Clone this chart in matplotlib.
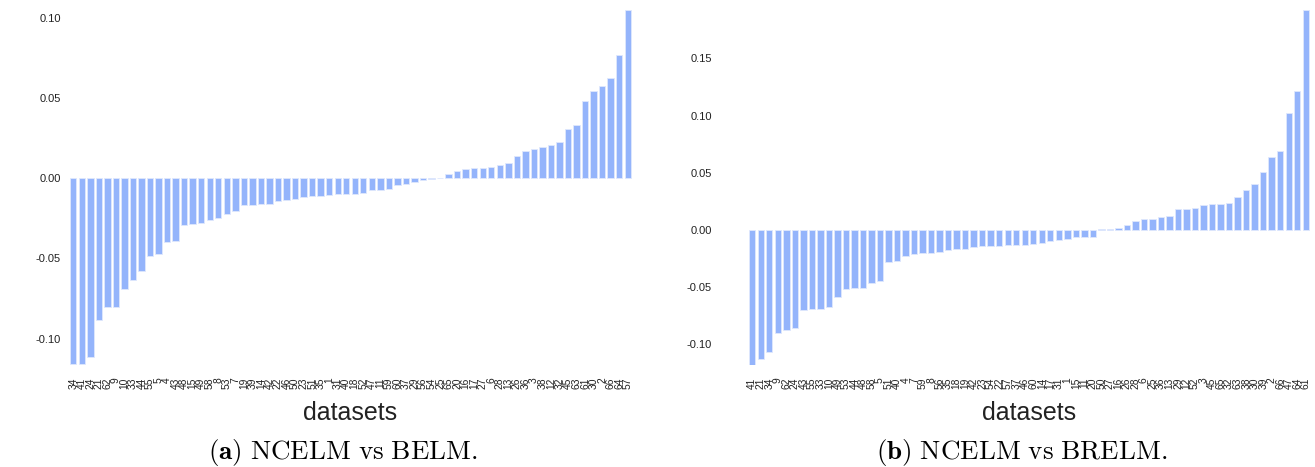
import numpy as np
import matplotlib
matplotlib.use('Agg')
import matplotlib.pyplot as plt

# Panel (a): NCELM vs BELM, sorted differences per dataset
labels_a = [34, 41, 24, 21, 62, 9, 10, 33, 44, 55, 5, 4, 43, 48, 15, 49, 58, 8, 53, 7,
            19, 39, 14, 42, 22, 46, 50, 23, 51, 35, 1, 31, 40, 18, 52, 47, 11, 59, 60, 37,
            29, 56, 54, 25, 65, 20, 16, 17, 27, 6, 28, 13, 26, 36, 3, 38, 12, 32, 45, 63,
            61, 30, 2, 66, 64, 57]
values_a = [-0.116, -0.1156, -0.1114, -0.0887, -0.080, -0.080, -0.0688, -0.0636, -0.0578, -0.0486,
            -0.0474, -0.0395, -0.0391, -0.0291, -0.0285, -0.0279, -0.0262, -0.0245, -0.0220, -0.0206,
            -0.0166, -0.0164, -0.0162, -0.0158, -0.0143, -0.0135, -0.0129, -0.0114, -0.0112, -0.0110,
            -0.0106, -0.0100, -0.0096, -0.0096, -0.0091, -0.0075, -0.0071, -0.0069, -0.0042, -0.0033,
            -0.0023, -0.0012, -0.0003, 0.0,
            0.0025, 0.0044, 0.0056, 0.0064, 0.0064, 0.0071, 0.0081, 0.0094, 0.0141, 0.0173,
            0.0185, 0.0195, 0.0208, 0.0224, 0.0307, 0.0330, 0.0480, 0.0542, 0.0578, 0.0628,
            0.0771, 0.1047]

# Panel (b): NCELM vs BRELM
labels_b = [41, 21, 34, 9, 62, 24, 43, 55, 33, 10, 49, 53, 44, 48, 58, 5, 51, 40, 4, 7,
            59, 8, 56, 35, 18, 19, 42, 23, 54, 22, 57, 37, 46, 60, 14, 17, 31, 1, 15, 11,
            20, 50, 27, 16, 26, 28, 6, 25, 36, 13, 29, 12, 52, 3, 45, 65, 32, 63, 38, 30,
            39, 2, 66, 47, 64, 61]
values_b = [-0.118, -0.113, -0.107, -0.0897, -0.0871, -0.0857, -0.070, -0.0693, -0.069, -0.0673,
            -0.0586, -0.0516, -0.051, -0.0504, -0.0463, -0.0446, -0.028, -0.0271, -0.0224, -0.0213,
            -0.0204, -0.0204, -0.019, -0.0178, -0.0166, -0.0163, -0.0146, -0.0143, -0.0143, -0.014,
            -0.0134, -0.0128, -0.0128, -0.012, -0.0114, -0.0096, -0.0085, -0.0082, -0.0061, -0.0058,
            -0.0058,
            0.0006, 0.0009, 0.0017, 0.0041, 0.0079, 0.0096, 0.0096, 0.0117, 0.0120, 0.0180,
            0.0180, 0.0192, 0.0216, 0.0224, 0.0230, 0.0239, 0.0291, 0.0350, 0.0400, 0.0504,
            0.0641, 0.0688, 0.1026, 0.1218, 0.1923]

W, H = 1315, 467
bar_color = '#94b4fb'
plt.rcParams['font.family'] = ['Liberation Sans', 'DejaVu Sans']
plt.rcParams['mathtext.fontset'] = 'cm'
fig = plt.figure(figsize=(W / 100, H / 100), dpi=100)


def panel(rect, labels, values, ylim, yticks, ypad):
    ax = fig.add_axes([rect[0] / W, 1 - rect[3] / H, (rect[2] - rect[0]) / W, (rect[3] - rect[1]) / H])
    x = np.arange(len(values))
    ax.bar(x, values, width=0.75, color=bar_color, edgecolor='#dfe8fd', linewidth=0.6)
    ax.set_xlim(-0.5, len(values) - 0.5)
    ax.set_ylim(*ylim)
    ax.set_yticks(yticks)
    ax.set_yticklabels(['%.2f' % t for t in yticks], fontsize=8, color='#222222')
    ax.set_xticks(x)
    ax.set_xticklabels([str(l) for l in labels], rotation=90, fontsize=7.4, color='#222222')
    ax.tick_params(axis='y', length=0, pad=ypad)
    ax.tick_params(axis='x', length=0, pad=9)
    for s in ax.spines.values():
        s.set_visible(False)
    ax.set_xlabel('datasets', fontsize=18, labelpad=9, color='#222222')
    return ax


panel((69, 10, 632, 365), labels_a, values_a, (-0.1165, 0.105),
      [-0.10, -0.05, 0.0, 0.05, 0.10], 6)
panel((748, 10, 1310, 365), labels_b, values_b, (-0.118, 0.1923),
      [-0.10, -0.05, 0.0, 0.05, 0.10, 0.15], 26)

# captions in LaTeX style: bold tag, roman text
fig.text(343 / W, 1 - 452 / H, r'$\mathbf{(a)}\ \mathrm{NCELM\ vs\ BELM.}$',
         fontsize=19.5, ha='center', va='center')
fig.text(1022 / W, 1 - 452 / H, r'$\mathbf{(b)}\ \mathrm{NCELM\ vs\ BRELM.}$',
         fontsize=19.5, ha='center', va='center')

fig.savefig('out.png', dpi=100, facecolor='white')
